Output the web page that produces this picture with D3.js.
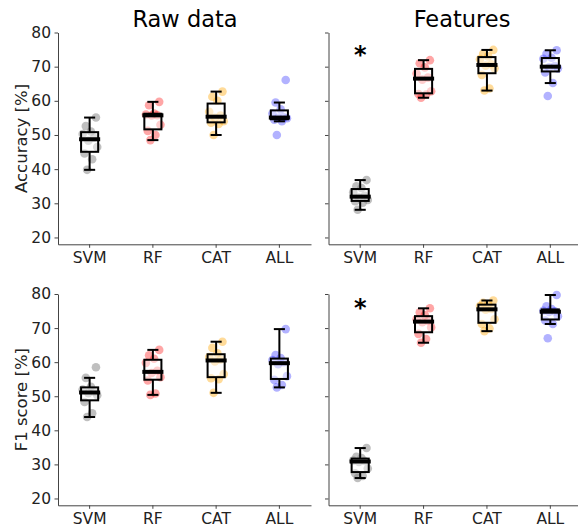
<!DOCTYPE html>
<html>
<head>
<meta charset="utf-8">
<style>
    body { margin: 0; background: #fff; }
    svg { display: block; font-family: "DejaVu Sans", sans-serif; }
</style>
</head>
<body>
<svg id="chart" width="578" height="529"></svg>

<script src="https://d3js.org/d3.v7.min.js"></script>
<script>
    // models on the x axis
    var categories = ["SVM", "RF", "CAT", "ALL"]
    var pointColors = ["#808080", "#ff0000", "#ffa500", "#0000ff"]
    var pointAlpha = [0.5, 0.35, 0.4, 0.3]

    // 10 folds per model
    var rawAcc = [
        [55.1, 52.6, 51.0, 50.3, 49.2, 48.3, 46.5, 44.6, 42.9, 39.8],
        [59.7, 58.7, 56.3, 56.0, 55.8, 55.7, 53.0, 51.2, 50.0, 48.5],
        [62.7, 61.2, 60.0, 56.8, 55.7, 55.0, 54.0, 53.6, 53.2, 50.0],
        [66.1, 59.5, 57.5, 56.3, 55.2, 55.0, 54.9, 54.5, 54.0, 50.0]
    ]
    var featAcc = [
        [36.8, 35.0, 34.5, 33.2, 32.2, 31.7, 31.0, 30.6, 30.2, 28.1],
        [71.9, 71.0, 69.8, 68.0, 66.8, 66.2, 62.8, 62.0, 61.8, 60.9],
        [74.9, 73.8, 73.0, 72.2, 70.7, 70.3, 69.5, 67.6, 63.6, 63.0],
        [74.8, 73.8, 72.6, 72.3, 70.2, 69.8, 69.5, 68.3, 65.2, 61.4]
    ]
    var rawF1 = [
        [58.5, 55.4, 52.8, 52.0, 51.3, 50.9, 50.3, 48.3, 45.0, 43.9],
        [63.6, 62.0, 61.0, 59.8, 57.5, 56.8, 55.6, 54.6, 50.8, 50.4],
        [66.0, 64.2, 62.6, 61.5, 60.8, 60.2, 56.5, 55.3, 55.0, 51.0],
        [69.7, 62.1, 61.2, 60.6, 60.0, 59.4, 55.9, 54.8, 53.3, 52.6]
    ]
    var featF1 = [
        [34.8, 32.2, 31.9, 31.1, 31.0, 30.7, 28.8, 27.4, 26.6, 26.0],
        [75.8, 74.6, 73.8, 72.6, 72.1, 71.7, 70.2, 68.3, 66.8, 65.7],
        [78.1, 77.4, 77.0, 76.5, 75.6, 75.4, 72.6, 71.2, 69.9, 69.1],
        [79.7, 76.4, 75.6, 75.1, 74.9, 74.7, 73.5, 72.2, 71.2, 67.0]
    ]

    // horizontal offset of each fold's dot, as a fraction of a band
    var jitter = [0.10, -0.06, 0.02, -0.11, 0.07, -0.02, 0.12, -0.08, 0.04, -0.04]

    var yTicks = [20, 30, 40, 50, 60, 70, 80]
    var yDomain = [18, 80]
    var titles = ["Raw data", "Features"]
    var yLabels = ["Accuracy [%]", "F1 score [%]"]
    // significance star (value where the star's baseline sits)
    var starAt = [71, 73.5]

    var svg = d3.select("#chart")

    var xLeft = d3.scaleBand().domain(categories).range([58, 311])
    var xRight = d3.scaleBand().domain(categories).range([328.5, 582])
    var yTop = d3.scaleLinear().domain(yDomain).range([244.3, 32.5])
    var yBottom = d3.scaleLinear().domain(yDomain).range([505.3, 294])

    function drawPanel(data, x, y, showLabels, star) {
        var g = svg.append("g")
        var bw = x.bandwidth()
        var boxW = bw * 0.27

        var yAxis = d3.axisLeft(y).tickValues(yTicks).tickSize(3.5).tickSizeOuter(0).tickPadding(3.5)
        if (!showLabels) yAxis.tickFormat("")
        var ya = g.append("g").attr("transform", "translate(" + x.range()[0] + ",0)").call(yAxis)
        ya.selectAll("text").attr("font-size", 15.5).attr("fill", "#222").attr("font-family", "DejaVu Sans")
        ya.selectAll("line, path").attr("stroke", "#444")

        var xa = g.append("g").attr("transform", "translate(0," + y.range()[0] + ")")
            .call(d3.axisBottom(x).tickSize(3.5).tickSizeOuter(0).tickPadding(4.5))
        xa.selectAll("text").attr("font-size", 15.5).attr("fill", "#222").attr("font-family", "DejaVu Sans")
        xa.selectAll("line, path").attr("stroke", "#444")

        data.forEach(function(vals, i) {
            var cx = x(categories[i]) + bw / 2

            g.selectAll(null).data(vals).enter().append("circle")
                .attr("cx", function(d, j) { return cx + jitter[j] * bw })
                .attr("cy", function(d) { return y(d) })
                .attr("r", 4.3)
                .attr("fill", pointColors[i])
                .attr("fill-opacity", pointAlpha[i])

            var s = vals.slice().sort(d3.ascending)
            var q1 = d3.quantileSorted(s, 0.25),
                med = d3.quantileSorted(s, 0.5),
                q3 = d3.quantileSorted(s, 0.75),
                iqr = q3 - q1
            var lo = d3.min(s.filter(function(v) { return v >= q1 - 1.5 * iqr }))
            var hi = d3.max(s.filter(function(v) { return v <= q3 + 1.5 * iqr }))

            var b = g.append("g").attr("stroke", "#000").attr("stroke-width", 2)
            b.append("line").attr("x1", cx).attr("x2", cx).attr("y1", y(hi)).attr("y2", y(q3))
            b.append("line").attr("x1", cx).attr("x2", cx).attr("y1", y(q1)).attr("y2", y(lo))
            b.append("line").attr("x1", cx - boxW / 2 + 3).attr("x2", cx + boxW / 2 - 3).attr("y1", y(hi)).attr("y2", y(hi))
            b.append("line").attr("x1", cx - boxW / 2 + 3).attr("x2", cx + boxW / 2 - 3).attr("y1", y(lo)).attr("y2", y(lo))
            b.append("rect")
                .attr("x", cx - boxW / 2).attr("width", boxW)
                .attr("y", y(q3)).attr("height", y(q1) - y(q3))
                .attr("fill", "#fff").attr("fill-opacity", 0.45)
            b.append("line").attr("stroke-width", 4)
                .attr("x1", cx - boxW / 2 - 2).attr("x2", cx + boxW / 2 + 2)
                .attr("y1", y(med)).attr("y2", y(med))
        })

        if (star != null) {
            g.append("text")
                .attr("x", x(categories[0]) + bw / 2)
                .attr("y", y(star))
                .attr("text-anchor", "middle")
                .attr("font-size", 24)
                .attr("font-weight", "bold")
                .text("*")
        }
        return g
    }

    drawPanel(rawAcc, xLeft, yTop, true, null)
    drawPanel(featAcc, xRight, yTop, false, starAt[0])
    drawPanel(rawF1, xLeft, yBottom, true, null)
    drawPanel(featF1, xRight, yBottom, false, starAt[1])

    // column titles
    svg.append("text").attr("x", 185).attr("y", 27.3).attr("text-anchor", "middle")
        .attr("font-size", 22.5).text(titles[0])
    svg.append("text").attr("x", 462).attr("y", 27.3).attr("text-anchor", "middle")
        .attr("font-size", 22.5).text(titles[1])

    // row labels
    ;[[yTop, yLabels[0]], [yBottom, yLabels[1]]].forEach(function(p) {
        var cy = (p[0].range()[0] + p[0].range()[1]) / 2
        svg.append("text")
            .attr("transform", "translate(27," + cy + ") rotate(-90)")
            .attr("text-anchor", "middle")
            .attr("font-size", 16.5)
            .attr("fill", "#222")
            .text(p[1])
    })
</script>
</body>
</html>
